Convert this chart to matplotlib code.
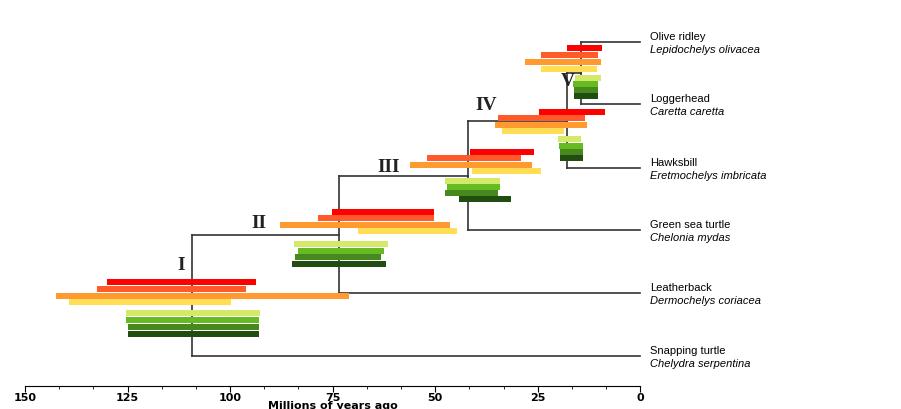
import matplotlib
matplotlib.use("Agg")
import matplotlib.pyplot as plt

# Node ages (Mya)
node_names = ["I", "II", "III", "IV", "V"]
node_age = [109.3, 73.5, 41.9, 17.8, 14.4]

# Divergence estimates: [start, end] per node, 4 warm + 4 green series
warm_start = [[130.0, 132.5, 142.4, 139.3], [75.2, 78.6, 87.9, 68.9],
              [41.4, 52.1, 56.2, 41.1], [24.6, 34.6, 35.5, 33.8], [17.8, 24.3, 28.2, 24.1]]
warm_end = [[93.7, 96.2, 71.1, 99.8], [50.2, 50.2, 46.5, 44.6],
            [25.8, 29.2, 26.3, 24.1], [8.5, 13.4, 12.9, 18.7], [9.3, 10.2, 9.5, 10.5]]
green_start = [[125.4, 125.4, 124.9, 124.9], [84.5, 83.5, 84.2, 85.0],
               [47.5, 47.2, 47.5, 44.3], [20.0, 19.7, 19.5, 19.5], [15.8, 16.3, 16.1, 16.1]]
green_end = [[92.8, 93.0, 93.0, 93.0], [61.6, 62.6, 63.3, 62.1],
             [34.3, 34.3, 34.6, 31.4], [14.4, 13.9, 13.9, 13.9], [9.5, 10.2, 10.2, 10.2]]

common = ["Olive ridley", "Loggerhead", "Hawksbill", "Green sea turtle", "Leatherback", "Snapping turtle"]
latin = ["Lepidochelys olivacea", "Caretta caretta", "Eretmochelys imbricata",
         "Chelonia mydas", "Dermochelys coriacea", "Chelydra serpentina"]

warm_colors = ["#ff0000", "#ff5a2a", "#ff9a30", "#ffdd55"]
green_colors = ["#d4e96a", "#66bb22", "#46891e", "#214d10"]

# layout (pixel rows)
leaf_y = [42, 104, 168, 230, 293, 356]
warm_y = [[282, 289, 296, 302], [212, 218, 225, 231], [152, 158, 165, 171], [112, 118, 125, 131], [48, 55, 62, 69]]
green_y = [[313, 320, 327, 334], [244, 251, 257, 264], [181, 187, 193, 199], [139, 146, 152, 158], [78, 84, 90, 96]]
label_pos = [(181, 265), (259, 224), (389, 167), (487, 106), (569, 81)]

fig = plt.figure(figsize=(9.01, 4.09), dpi=100)
ax = fig.add_axes([0, 0, 1, 1])
ax.set_xlim(150 + 25 / 4.107, -(901 - 640) / 4.107)
ax.set_ylim(409, 0)

lc = "#333333"
segs = [
    ([node_age[0]] * 2, [235, 356]), ([node_age[0], 0], [356, 356]),
    ([node_age[0], node_age[1]], [235, 235]),
    ([node_age[1]] * 2, [176, 293]), ([node_age[1], 0], [293, 293]),
    ([node_age[1], node_age[2]], [176, 176]),
    ([node_age[2]] * 2, [121, 230]), ([node_age[2], 0], [230, 230]),
    ([node_age[2], node_age[3]], [121, 121]),
    ([node_age[3]] * 2, [73, 168]), ([node_age[3], 0], [168, 168]),
    ([node_age[3], node_age[4]], [73, 73]),
    ([node_age[4]] * 2, [42, 104]), ([node_age[4], 0], [42, 42]),
    ([node_age[4], 0], [104, 104]),
]
for xs, ys in segs:
    ax.plot(xs, ys, color=lc, lw=1.2)

for i in range(5):
    for j in range(4):
        ax.barh(warm_y[i][j], warm_end[i][j] - warm_start[i][j], left=warm_start[i][j],
                height=6.3, color=warm_colors[j], zorder=3)
        ax.barh(green_y[i][j], green_end[i][j] - green_start[i][j], left=green_start[i][j],
                height=6.3, color=green_colors[j], zorder=3)
    x, y = label_pos[i]
    ax.text(150 - (x - 25) / 4.107, y, node_names[i], family="Liberation Serif",
            fontweight="bold", fontsize=14, ha="center", va="center", color="#222222")

for k in range(6):
    xx = -(650 - 640) / 4.107
    ax.text(xx, leaf_y[k] - 5, common[k], fontsize=8, family="Liberation Sans", va="center")
    ax.text(xx, leaf_y[k] + 8, latin[k], fontsize=8, family="Liberation Sans",
            style="italic", va="center")

for s in ["top", "right", "left"]:
    ax.spines[s].set_visible(False)
ax.spines["bottom"].set_position(("data", 386))
ax.spines["bottom"].set_bounds(150, 0)
ax.set_xticks([150, 125, 100, 75, 50, 25, 0])
ax.set_xticks([150 - 25 / 3 * i for i in range(19)], minor=True)
ax.tick_params(axis="x", direction="out", length=4, labelsize=8, pad=1)
ax.tick_params(axis="x", which="minor", length=2)
for t in ax.get_xticklabels():
    t.set_fontweight("bold")
ax.set_yticks([])
ax.text(75, 401, "Millions of years ago", fontsize=8, fontweight="bold", ha="center", va="top")

fig.savefig("out.png", dpi=100)
